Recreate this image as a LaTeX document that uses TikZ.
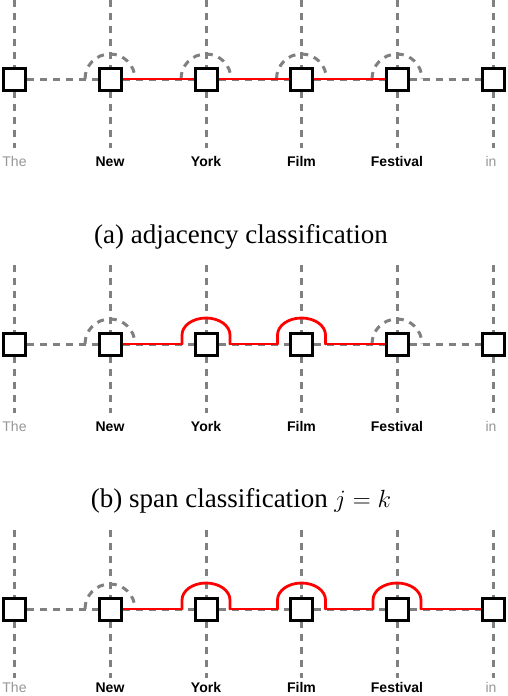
\documentclass[tikz,border=0pt]{standalone}
\usepackage{fontspec}
\setmainfont{Liberation Serif}
\setsansfont{Liberation Sans}
\usetikzlibrary{calc}
\pgfdeclarelayer{background}
\pgfsetlayers{background,main}
\definecolor{dgray}{RGB}{128,128,128}
\definecolor{lgray}{RGB}{150,150,150}
\definecolor{hred}{RGB}{255,0,0}
\tikzset{
  gline/.style={draw=dgray, line width=3pt, dash pattern=on 7pt off 6pt},
  rline/.style={draw=hred, line width=2.8pt, line cap=round, line join=round},
  sq/.style={draw=black, fill=white, line width=3pt, minimum size=22pt, inner sep=0pt},
  word/.style={font=\fontsize{14}{14}\selectfont\sffamily\bfseries, anchor=base, inner sep=0pt},
  fword/.style={font=\fontsize{14}{14}\selectfont\sffamily, text=lgray, anchor=base, inner sep=0pt},
  captext/.style={font=\fontsize{27}{27}\selectfont, anchor=base, inner sep=0pt},
}
\newcommand\redhump[1]{%
  \draw[rline] ($(#1.center)+(-24,0)$) -- ++(0,-9)
    arc[start angle=180, end angle=360, x radius=24, y radius=17] -- ++(0,9);}
\begin{document}
\begin{tikzpicture}[x=1pt,y=-1pt]
\useasboundingbox (0,0) rectangle (508,696);
\clip (0,0) rectangle (508,696);
% squares, labels and vertical lines
\foreach \r/\dy/\lb in {a/0/166,b/265/431,c/530/692}{
  \foreach \i/\x in {1/14.5,2/110,3/206,4/301.5,5/397,6/493}{
    \node[sq] (\r\i) at (\x,\dy+79) {};
    \coordinate (\r\i top) at (\x,\dy);
    \coordinate (\r\i bot) at (\x,\dy+148);
    \begin{pgfonlayer}{background}
      \draw[gline] (\r\i top) -- (\r\i bot);
    \end{pgfonlayer}
  }
  \node[fword] (\r w1) at (14.5,\lb) {The};
  \node[word]  (\r w2) at (110,\lb) {New};
  \node[word]  (\r w3) at (206,\lb) {York};
  \node[word]  (\r w4) at (301.5,\lb) {Film};
  \node[word]  (\r w5) at (397,\lb) {Festival};
  \node[fword] (\r w6) at (491,\lb) {in};
  \begin{pgfonlayer}{background}
    \draw[gline] (\r1.east) -- (\r2.west);
    \draw[gline] (\r2.east) -- (\r3.west);
    \draw[gline] (\r3.east) -- (\r4.west);
    \draw[gline] (\r4.east) -- (\r5.west);
    \draw[gline] (\r5.east) -- (\r6.west);
  \end{pgfonlayer}
}
\begin{pgfonlayer}{background}
  % (a) adjacency
  \foreach \n in {a2,a3,a4,a5}{
    \draw[gline] ($(\n.center)+(-25,0)$) arc[start angle=180, end angle=360, radius=25];
  }
  \draw[rline] (a2.east) -- (a5.west);
  % (b) span j=k
  \foreach \n in {b2,b5}{
    \draw[gline] ($(\n.center)+(-25,0)$) arc[start angle=180, end angle=360, radius=25];
  }
  \draw[rline] (b2.east) -- ($(b3.center)+(-24,0)$);
  \redhump{b3}
  \draw[rline] ($(b3.center)+(24,0)$) -- ($(b4.center)+(-24,0)$);
  \redhump{b4}
  \draw[rline] ($(b4.center)+(24,0)$) -- (b5.west);
  % (c)
  \draw[gline] ($(c2.center)+(-25,0)$) arc[start angle=180, end angle=360, radius=25];
  \draw[rline] (c2.east) -- ($(c3.center)+(-24,0)$);
  \redhump{c3}
  \draw[rline] ($(c3.center)+(24,0)$) -- ($(c4.center)+(-24,0)$);
  \redhump{c4}
  \draw[rline] ($(c4.center)+(24,0)$) -- ($(c5.center)+(-24,0)$);
  \redhump{c5}
  \draw[rline] ($(c5.center)+(24,0)$) -- (c6.west);
\end{pgfonlayer}
\node[captext] (capa) at (241,243) {(a) adjacency classification};
\node[captext] (capb) at (241,507) {(b) span classification $j=k$};
\end{tikzpicture}
\end{document}
